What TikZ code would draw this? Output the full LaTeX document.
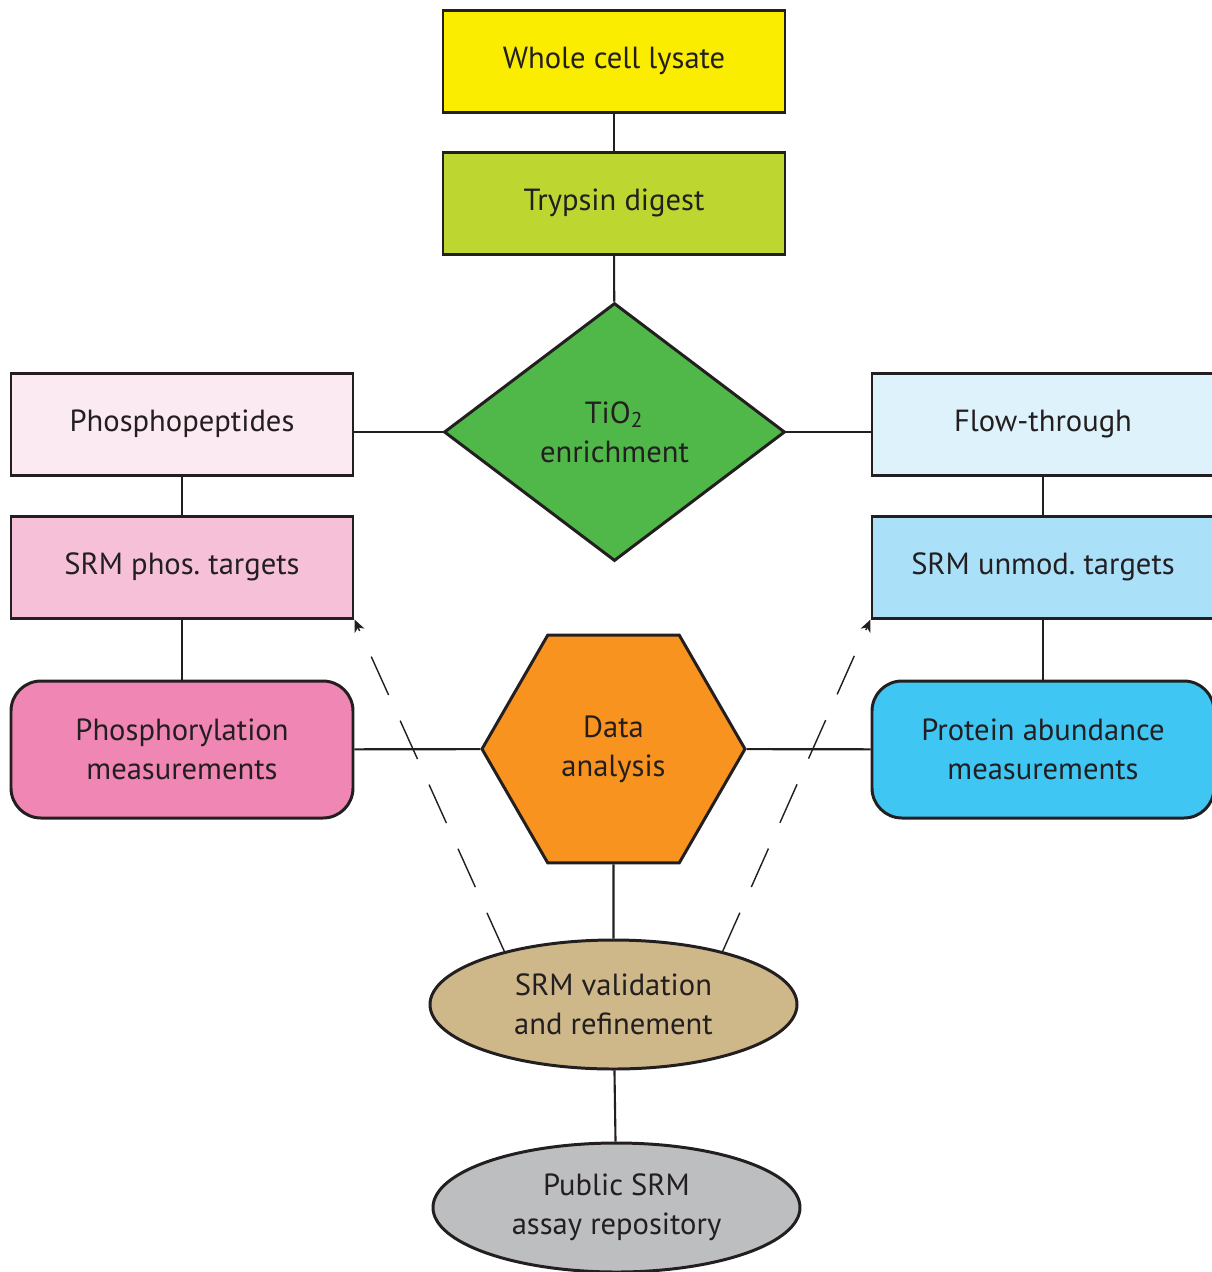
\documentclass[tikz,border=0pt]{standalone}
\usepackage{fontspec}
\setmainfont{PT Sans}
\usetikzlibrary{shapes,arrows.meta}

\definecolor{trait}{RGB}{35,31,32}
\definecolor{lysat}{RGB}{250,237,0}
\definecolor{trypsine}{RGB}{189,214,48}
\definecolor{enrich}{RGB}{80,184,72}
\definecolor{phospep}{RGB}{252,234,242}
\definecolor{cibphos}{RGB}{246,193,216}
\definecolor{mesphos}{RGB}{240,134,180}
\definecolor{flux}{RGB}{222,242,251}
\definecolor{cibunmod}{RGB}{171,224,249}
\definecolor{abond}{RGB}{63,198,243}
\definecolor{analyse}{RGB}{247,147,30}
\definecolor{valid}{RGB}{206,184,138}
\definecolor{depot}{RGB}{188,190,192}

\tikzset{
	texte/.style={align=center,text=trait,font=\fontsize{8.7}{11}\selectfont,draw=trait,line width=0.85pt},
	boite/.style={texte,rectangle,minimum width=3.42cm,minimum height=1.02cm},
	arrondi/.style={texte,rectangle,rounded corners=0.3cm,minimum width=3.42cm,minimum height=1.37cm},
	ovale/.style={texte,ellipse,minimum width=3.67cm,minimum height=1.29cm,inner sep=1pt},
	lien/.style={draw=trait,line width=0.6pt},
	pointille/.style={draw=trait,line width=0.4pt,dash pattern=on 12pt off 8pt,arrows={-{Stealth[length=3.5pt,width=3pt,inset=1pt]}}}
}

\begin{document}
\begin{tikzpicture}
	\useasboundingbox (0,0) rectangle (12.11,-12.72);
	
	\node[boite,fill=lysat] (lysat) at (6.14,-0.61) {Whole cell lysate};
	\node[boite,fill=trypsine] (trypsine) at (6.14,-2.03) {Trypsin digest};
	\node[texte,diamond,fill=enrich,minimum width=3.41cm,minimum height=2.58cm,inner sep=1pt] (tio)
	at (6.145,-4.32) {TiO\textsubscript{2}\\enrichment};
	
	\node[boite,fill=phospep] (phospep) at (1.82,-4.24) {Phosphopeptides};
	\node[boite,fill=cibphos] (cibphos) at (1.82,-5.67) {SRM phos.\ targets};
	\node[arrondi,fill=mesphos] (mesphos) at (1.82,-7.495) {Phosphorylation\\measurements};
	
	\node[boite,fill=flux] (flux) at (10.43,-4.24) {Flow-through};
	\node[boite,fill=cibunmod] (cibunmod) at (10.43,-5.67) {SRM unmod.\ targets};
	\node[arrondi,fill=abond] (abond) at (10.43,-7.495) {Protein abundance\\measurements};
	
	\node[texte,regular polygon,regular polygon sides=6,fill=analyse,minimum size=2.63cm,inner sep=1pt] (analyse)
	at (6.135,-7.49) {Data\\analysis};
	
	\node[ovale,fill=valid] (valid) at (6.135,-10.045) {SRM validation\\and refinement};
	\node[ovale,fill=depot] (depot) at (6.165,-12.075) {Public SRM\\assay repository};
	
	\path[lien] (lysat) edge (trypsine);
	\path[lien] (trypsine) edge (tio);
	\path[lien] (tio.west) edge (tio.west -| phospep.east);
	\path[lien] (tio.east) edge (tio.east -| flux.west);
	\path[lien] (phospep) edge (cibphos);
	\path[lien] (cibphos) edge (mesphos);
	\path[lien] (flux) edge (cibunmod);
	\path[lien] (cibunmod) edge (abond);
	\path[lien] (mesphos) edge (analyse);
	\path[lien] (analyse) edge (abond);
	\path[lien] (analyse) edge (valid);
	\path[lien] (valid) edge (depot);
	\draw[pointille] (valid.154) -- (cibphos.south east);
	\draw[pointille] (valid.26) -- (cibunmod.south west);
\end{tikzpicture}
\end{document}
